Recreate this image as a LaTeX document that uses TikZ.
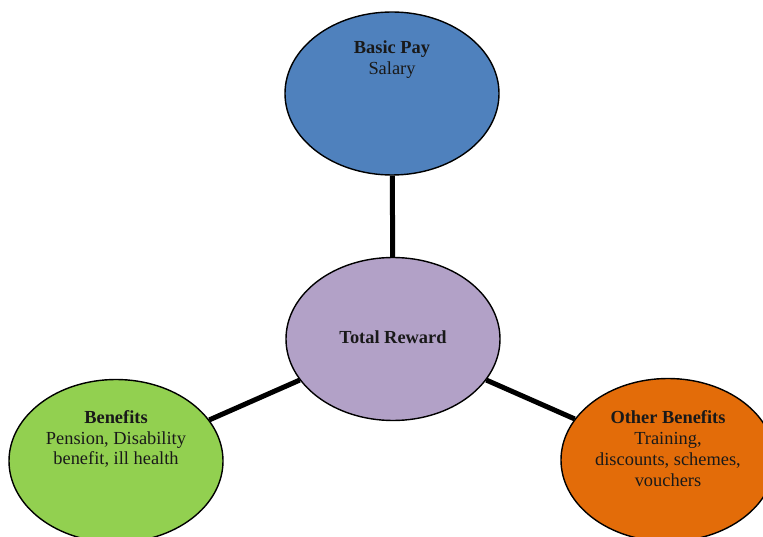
\documentclass[tikz,border=0pt]{standalone}
\usepackage{fontspec}
\setmainfont{Liberation Serif}
\usetikzlibrary{shapes.geometric}
\definecolor{bpblue}{HTML}{4F81BD}
\definecolor{trpurple}{HTML}{B2A1C7}
\definecolor{bfgreen}{HTML}{92D050}
\definecolor{oborange}{HTML}{E36C09}
\begin{document}
\begin{tikzpicture}[x=1pt,y=-1pt,
  oval/.style={ellipse,draw=black,line width=1.4pt,minimum width=214pt,minimum height=163pt,inner sep=0pt},
  lbl/.style={align=center,font=\fontsize{18.4}{20.8}\selectfont,text=black!90},
  link/.style={line width=5pt,black}]
\useasboundingbox (0,0) rectangle (763,537);
\node[oval,fill=bpblue] (bp) at (392,93.5) {};
\node[oval,fill=trpurple] (tr) at (393,339) {};
\node[oval,fill=bfgreen] (bf) at (116,461) {};
\node[oval,fill=oborange] (ob) at (668,460) {};
\draw[link] (bp) -- (tr);
\draw[link] (tr) -- (bf);
\draw[link] (tr) -- (ob);
\node[lbl] (bpt) at ([yshift=34pt]bp.center) {\textbf{Basic Pay}\\Salary};
\node[lbl] (trt) at ([yshift=2pt]tr.center) {\textbf{Total Reward}};
\node[lbl] (bft) at ([yshift=22pt]bf.center) {\textbf{Benefits}\\Pension, Disability\\benefit, ill health};
\node[lbl] (obt) at ([yshift=11.5pt]ob.center) {\textbf{Other Benefits}\\Training,\\discounts, schemes,\\vouchers};
\end{tikzpicture}
\end{document}
